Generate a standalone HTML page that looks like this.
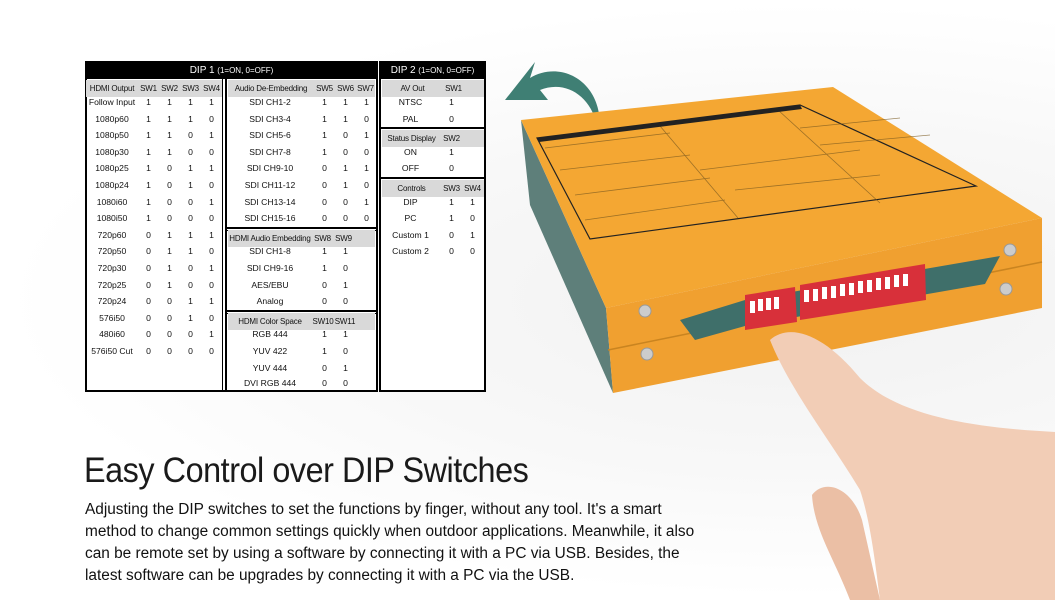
<!DOCTYPE html>
<html><head><meta charset="utf-8"><style>
*{margin:0;padding:0;box-sizing:border-box}
body{width:1055px;height:600px;position:relative;overflow:hidden;background:#fff;font-family:"Liberation Sans",sans-serif;color:#111}
.a{position:absolute}
.r{position:absolute;display:grid;height:17px;line-height:17px;font-size:8.6px;text-align:center;white-space:nowrap}
.g{font-size:8px;letter-spacing:-0.2px}
.L{left:86px;grid-template-columns:52px 21px 21px 21px 21px;padding-left:0}
.M{left:226px;grid-template-columns:88px 21px 21px 21px}
.D{left:380px;grid-template-columns:61px 21px 21px}
.g{background:#d9d9d9}
.blk{background:#000;color:#fff;font-size:10px;text-align:center;line-height:17px}
.blk small{font-size:8px}
.box{position:absolute;border:2px solid #000}
</style></head><body>
<div style="position:absolute;left:0;top:0;width:1055px;height:600px;background:radial-gradient(ellipse at 800px 300px,#f1f1f1 0%,#f8f8f8 40%,#fff 70%)"></div>

<!-- DIP1 -->
<div class="box" style="left:85px;top:61px;width:293px;height:331px;background:#fff"></div>
<div class="a blk" style="left:86px;top:62px;width:291px;height:17px">DIP 1 <small>(1=ON, 0=OFF)</small></div>
<div class="a" style="left:222px;top:79px;width:1px;height:312px;background:#000"></div>
<div class="a" style="left:225px;top:79px;width:2px;height:312px;background:#000"></div>
<div class="a" style="left:226px;top:227px;width:151px;height:2px;background:#000"></div>
<div class="a" style="left:226px;top:230px;width:151px;height:1px;background:#000"></div>
<div class="a" style="left:226px;top:310px;width:151px;height:2px;background:#000"></div>
<div class="a" style="left:226px;top:313px;width:151px;height:1px;background:#000"></div>

<div class="r L g" style="top:80px;width:136px"><span>HDMI Output</span><span>SW1</span><span>SW2</span><span>SW3</span><span>SW4</span></div>
<div class="r L" style="top:94px"><span>Follow Input</span><span>1</span><span>1</span><span>1</span><span>1</span></div>
<div class="r L" style="top:110.6px"><span>1080p60</span><span>1</span><span>1</span><span>1</span><span>0</span></div>
<div class="r L" style="top:127.2px"><span>1080p50</span><span>1</span><span>1</span><span>0</span><span>1</span></div>
<div class="r L" style="top:143.8px"><span>1080p30</span><span>1</span><span>1</span><span>0</span><span>0</span></div>
<div class="r L" style="top:160.4px"><span>1080p25</span><span>1</span><span>0</span><span>1</span><span>1</span></div>
<div class="r L" style="top:177px"><span>1080p24</span><span>1</span><span>0</span><span>1</span><span>0</span></div>
<div class="r L" style="top:193.6px"><span>1080i60</span><span>1</span><span>0</span><span>0</span><span>1</span></div>
<div class="r L" style="top:210.2px"><span>1080i50</span><span>1</span><span>0</span><span>0</span><span>0</span></div>
<div class="r L" style="top:226.8px"><span>720p60</span><span>0</span><span>1</span><span>1</span><span>1</span></div>
<div class="r L" style="top:243.4px"><span>720p50</span><span>0</span><span>1</span><span>1</span><span>0</span></div>
<div class="r L" style="top:260px"><span>720p30</span><span>0</span><span>1</span><span>0</span><span>1</span></div>
<div class="r L" style="top:276.6px"><span>720p25</span><span>0</span><span>1</span><span>0</span><span>0</span></div>
<div class="r L" style="top:293.2px"><span>720p24</span><span>0</span><span>0</span><span>1</span><span>1</span></div>
<div class="r L" style="top:309.8px"><span>576i50</span><span>0</span><span>0</span><span>1</span><span>0</span></div>
<div class="r L" style="top:326.4px"><span>480i60</span><span>0</span><span>0</span><span>0</span><span>1</span></div>
<div class="r L" style="top:343px"><span>576i50 Cut</span><span>0</span><span>0</span><span>0</span><span>0</span></div>

<div class="r M g" style="top:80px;left:228px;width:147px;grid-template-columns:86px 21px 21px 19px"><span>Audio De-Embedding</span><span>SW5</span><span>SW6</span><span>SW7</span></div>
<div class="r M" style="top:94px"><span>SDI CH1-2</span><span>1</span><span>1</span><span>1</span></div>
<div class="r M" style="top:110.6px"><span>SDI CH3-4</span><span>1</span><span>1</span><span>0</span></div>
<div class="r M" style="top:127.2px"><span>SDI CH5-6</span><span>1</span><span>0</span><span>1</span></div>
<div class="r M" style="top:143.8px"><span>SDI CH7-8</span><span>1</span><span>0</span><span>0</span></div>
<div class="r M" style="top:160.4px"><span>SDI CH9-10</span><span>0</span><span>1</span><span>1</span></div>
<div class="r M" style="top:177px"><span>SDI CH11-12</span><span>0</span><span>1</span><span>0</span></div>
<div class="r M" style="top:193.6px"><span>SDI CH13-14</span><span>0</span><span>0</span><span>1</span></div>
<div class="r M" style="top:210.2px"><span>SDI CH15-16</span><span>0</span><span>0</span><span>0</span></div>

<div class="r M g" style="top:230px;left:228px;width:147px;grid-template-columns:84px 21px 21px 21px"><span>HDMI Audio Embedding</span><span>SW8</span><span>SW9</span><span></span></div>
<div class="r M" style="top:243.4px"><span>SDI CH1-8</span><span>1</span><span>1</span><span></span></div>
<div class="r M" style="top:260px"><span>SDI CH9-16</span><span>1</span><span>0</span><span></span></div>
<div class="r M" style="top:276.6px"><span>AES/EBU</span><span>0</span><span>1</span><span></span></div>
<div class="r M" style="top:293.2px"><span>Analog</span><span>0</span><span>0</span><span></span></div>

<div class="r M g" style="top:313px;left:228px;width:147px;grid-template-columns:84px 22px 22px 19px"><span>HDMI Color Space</span><span>SW10</span><span>SW11</span><span></span></div>
<div class="r M" style="top:326.4px"><span>RGB 444</span><span>1</span><span>1</span><span></span></div>
<div class="r M" style="top:343px"><span>YUV 422</span><span>1</span><span>0</span><span></span></div>
<div class="r M" style="top:360px"><span>YUV 444</span><span>0</span><span>1</span><span></span></div>
<div class="r M" style="top:374.5px"><span>DVI RGB 444</span><span>0</span><span>0</span><span></span></div>

<!-- DIP2 -->
<div class="box" style="left:379px;top:61px;width:107px;height:331px;background:#fff"></div>
<div class="a blk" style="left:380px;top:62px;width:105px;height:17px">DIP 2 <small>(1=ON, 0=OFF)</small></div>
<div class="a" style="left:380px;top:127px;width:105px;height:2px;background:#000"></div>
<div class="a" style="left:380px;top:177px;width:105px;height:2px;background:#000"></div>
<div class="r D g" style="top:80px;left:382px;width:102px"><span>AV Out</span><span>SW1</span><span></span></div>
<div class="r D" style="top:94px"><span>NTSC</span><span>1</span><span></span></div>
<div class="r D" style="top:110.6px"><span>PAL</span><span>0</span><span></span></div>
<div class="r D g" style="top:130px;left:382px;width:102px;grid-template-columns:59px 21px 21px"><span>Status Display</span><span>SW2</span><span></span></div>
<div class="r D" style="top:143.8px"><span>ON</span><span>1</span><span></span></div>
<div class="r D" style="top:160.4px"><span>OFF</span><span>0</span><span></span></div>
<div class="r D g" style="top:180px;left:382px;width:102px;grid-template-columns:59px 21px 21px"><span>Controls</span><span>SW3</span><span>SW4</span></div>
<div class="r D" style="top:193.6px"><span>DIP</span><span>1</span><span>1</span></div>
<div class="r D" style="top:210.2px"><span>PC</span><span>1</span><span>0</span></div>
<div class="r D" style="top:226.8px"><span>Custom 1</span><span>0</span><span>1</span></div>
<div class="r D" style="top:243.4px"><span>Custom 2</span><span>0</span><span>0</span></div>

<!-- device illustration -->
<svg class="a" style="left:0;top:0" width="1055" height="600" viewBox="0 0 1055 600">
 <path d="M600 125 C600 80 560 60 530 78 L535 62 L505 100 L548 100 L540 90 C565 80 590 95 597 125 Z" fill="#3f7f74"/>
 <polygon points="521,120 606,308 613,393 530,205" fill="#5e7f7a"/>
 <polygon points="521,120 833,87 1042,218 606,308" fill="#f4a733"/>
 <polygon points="537,138 800,105 976,186 590,239" fill="none" stroke="#222" stroke-width="1.2"/>
 <g stroke="#7a5a20" stroke-width="0.8" opacity="0.7">
  <line x1="660" y1="126" x2="738" y2="218"/><line x1="778" y1="110" x2="880" y2="203"/>
  <line x1="700" y1="170" x2="860" y2="150"/><line x1="735" y1="190" x2="880" y2="175"/>
  <line x1="545" y1="148" x2="670" y2="133"/><line x1="560" y1="170" x2="690" y2="155"/><line x1="575" y1="195" x2="710" y2="178"/><line x1="585" y1="220" x2="725" y2="200"/>
  <line x1="800" y1="128" x2="900" y2="118"/><line x1="820" y1="145" x2="930" y2="135"/>
 </g>
 <polygon points="537,138 800,105 802,109 539,142" fill="#222"/>
 <polygon points="606,308 1042,218 1042,308 613,393" fill="#f0a030"/>
 <line x1="608" y1="350" x2="1042" y2="262" stroke="#c98420" stroke-width="1.5"/>
 <polygon points="680,320 745,300 1000,256 985,284 745,326 695,340" fill="#3f6f6a"/>
 <polygon points="745,295 795,287 797,322 745,330" fill="#d8303a"/>
 <polygon points="800,285 925,264 926,300 800,320" fill="#d8303a"/>
 <g fill="#fff"><rect x="750" y="301" width="5" height="12"/><rect x="758" y="299" width="5" height="12"/><rect x="766" y="298" width="5" height="12"/><rect x="774" y="297" width="5" height="12"/>
 <rect x="804" y="290" width="5" height="12"/><rect x="813" y="289" width="5" height="12"/><rect x="822" y="287" width="5" height="12"/><rect x="831" y="286" width="5" height="12"/><rect x="840" y="284" width="5" height="12"/><rect x="849" y="283" width="5" height="12"/><rect x="858" y="281" width="5" height="12"/><rect x="867" y="280" width="5" height="12"/><rect x="876" y="278" width="5" height="12"/><rect x="885" y="277" width="5" height="12"/><rect x="894" y="275" width="5" height="12"/><rect x="903" y="274" width="5" height="12"/></g>
 <g fill="#ccc" stroke="#999"><circle cx="645" cy="311" r="6"/><circle cx="647" cy="354" r="6"/><circle cx="1010" cy="250" r="6"/><circle cx="1006" cy="289" r="6"/></g>
 <path d="M770 340 C790 322 825 335 860 378 C900 418 980 428 1055 432 L1055 600 L880 600 C875 560 870 520 860 490 C830 440 790 390 770 340 Z" fill="#f2cdb6"/>
 <path d="M812 495 C825 478 852 488 862 520 L880 600 L850 600 C835 560 814 530 812 495 Z" fill="#ebbfa5"/>
</svg>

<div class="a" style="left:84px;top:451px;font-size:35px;font-weight:normal;color:#1a1a1a;white-space:nowrap;transform:scaleX(0.925);transform-origin:left;letter-spacing:-0.5px">Easy Control over DIP Switches</div>
<div class="a" style="left:85px;top:499px;width:640px;font-size:15.4px;line-height:22px;color:#111">Adjusting the DIP switches to set the functions by finger, without any tool. It's a smart<br>method to change common settings quickly when outdoor applications. Meanwhile, it also<br>can be remote set by using a software by connecting it with a PC via USB. Besides, the<br>latest software can be upgrades by connecting it with a PC via the USB.</div>
</body></html>
